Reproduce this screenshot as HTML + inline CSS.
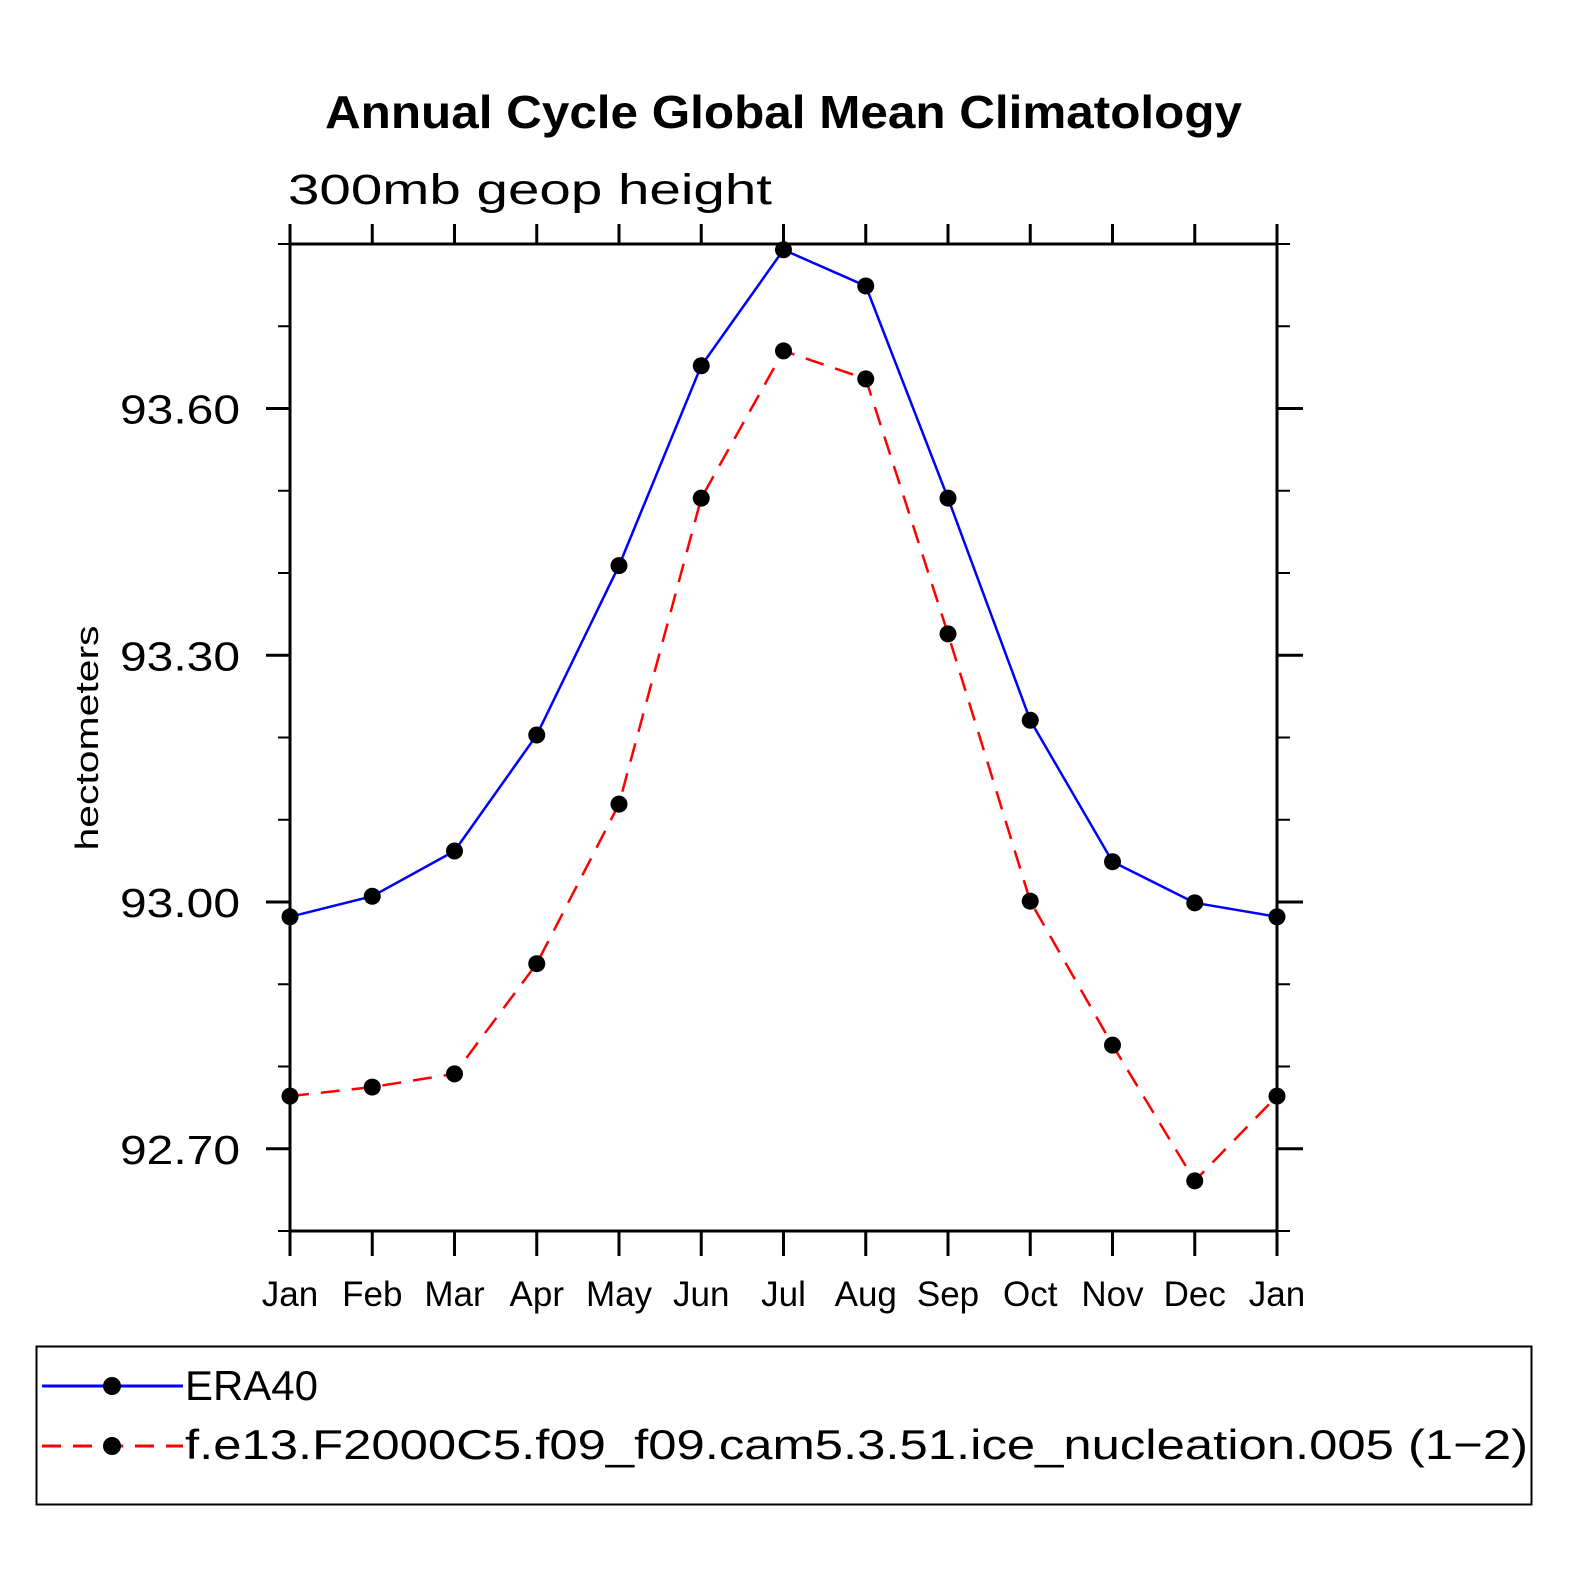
<!DOCTYPE html>
<html><head><meta charset="utf-8"><style>html,body{margin:0;padding:0;background:#fff}svg{display:block}</style></head>
<body>
<svg id="chart" width="1574" height="1574" xmlns="http://www.w3.org/2000/svg" font-family="'Liberation Sans', sans-serif">
<rect width="1574" height="1574" fill="#fff"/>
<text x="325" y="128" font-size="46" font-weight="bold" textLength="917" lengthAdjust="spacingAndGlyphs">Annual Cycle Global Mean Climatology</text>
<text x="288" y="204" font-size="43" textLength="484" lengthAdjust="spacingAndGlyphs">300mb  geop  height</text>
<text transform="translate(98,738) rotate(-90)" text-anchor="middle" font-size="32" textLength="225" lengthAdjust="spacingAndGlyphs">hectometers</text>
<g id="axes"></g>
<g id="series"></g>
<rect x="36.5" y="1346.5" width="1495" height="158" fill="none" stroke="#000" stroke-width="2"/>
<g>
<line x1="42" y1="1386" x2="183" y2="1386" stroke="#0000ff" stroke-width="3"/>
<circle cx="112" cy="1386" r="9" fill="#000"/>
<text x="185" y="1400" font-size="42" textLength="133" lengthAdjust="spacingAndGlyphs">ERA40</text>
</g>
<g>
<line x1="42" y1="1446" x2="183" y2="1446" stroke="#ff0000" stroke-width="3" stroke-dasharray="19,12"/>
<circle cx="112" cy="1446" r="9" fill="#000"/>
<text x="185" y="1459" font-size="42" textLength="1343" lengthAdjust="spacingAndGlyphs">f.e13.F2000C5.f09_f09.cam5.3.51.ice_nucleation.005 (1−2)</text>
</g>
</svg>
<script>
const months = ["Jan","Feb","Mar","Apr","May","Jun","Jul","Aug","Sep","Oct","Nov","Dec","Jan"];
const era40 = [92.982,93.007,93.062,93.203,93.409,93.652,93.793,93.749,93.491,93.221,93.049,92.999,92.982];
const model = [92.764,92.775,92.791,92.925,93.119,93.491,93.670,93.636,93.326,93.001,92.826,92.661,92.764];
const yTicks = [92.70,93.00,93.30,93.60];
const yTickLabels = ["92.70","93.00","93.30","93.60"];
const yMinor = [92.60,92.80,92.90,93.10,93.20,93.40,93.50,93.70,93.80];

const L=290,R=1277,T=244,B=1231,yMin=92.60,yMax=93.80;
function xs(i){return L+(R-L)*i/(months.length-1);}
function ys(v){return B-(v-yMin)/(yMax-yMin)*(B-T);}
const NS="http://www.w3.org/2000/svg";
function mk(tag,attrs,parent){const e=document.createElementNS(NS,tag);for(const k in attrs)e.setAttribute(k,attrs[k]);parent.appendChild(e);return e;}
const ax=document.getElementById('axes');
const frame=mk('rect',{x:L,y:T,width:R-L,height:B-T,fill:'none',stroke:'#000','stroke-width':3},ax);


months.forEach((m,i)=>{
  const x=xs(i);
  const t1=mk('line',{x1:x,y1:B,x2:x,y2:B+25,stroke:'#000','stroke-width':3},ax);
  
  
  const t2=mk('line',{x1:x,y1:T,x2:x,y2:T-20,stroke:'#000','stroke-width':3},ax);
  
  
  const lb=mk('text',{x:x,y:1306,'text-anchor':'middle','font-size':35},ax);
  lb.textContent=m;
  
  
});
yTicks.forEach((v,i)=>{
  const y=ys(v);
  const a=mk('line',{x1:L-24,y1:y,x2:L,y2:y,stroke:'#000','stroke-width':3},ax);
  
  
  const b=mk('line',{x1:R,y1:y,x2:R+26,y2:y,stroke:'#000','stroke-width':3},ax);
  
  
  const lb=mk('text',{x:120,y:y+15,'font-size':41,textLength:120,lengthAdjust:'spacingAndGlyphs'},ax);
  lb.textContent=yTickLabels[i];
  
  
});
yMinor.forEach(v=>{
  const y=ys(v);
  const a=mk('line',{x1:L-12,y1:y,x2:L,y2:y,stroke:'#000','stroke-width':2},ax);
  
  
  const b=mk('line',{x1:R,y1:y,x2:R+13,y2:y,stroke:'#000','stroke-width':2},ax);
  
  
});
const sg=document.getElementById('series');
function drawSeries(vals,color,dash,name){
  const pts=vals.map((v,i)=>xs(i)+','+ys(v)).join(' ');
  const pl=mk('polyline',{points:pts,fill:'none',stroke:color,'stroke-width':2.5},sg);
  if(dash)pl.setAttribute('stroke-dasharray',dash);
  
  
  vals.forEach((v,i)=>{
    const c=mk('circle',{cx:xs(i),cy:ys(v),r:8.5,fill:'#000'},sg);
    
    
  });
}
drawSeries(era40,'#0000ff',null,'era40');
drawSeries(model,'#ff0000','19,12','model');
</script>
</body></html>
